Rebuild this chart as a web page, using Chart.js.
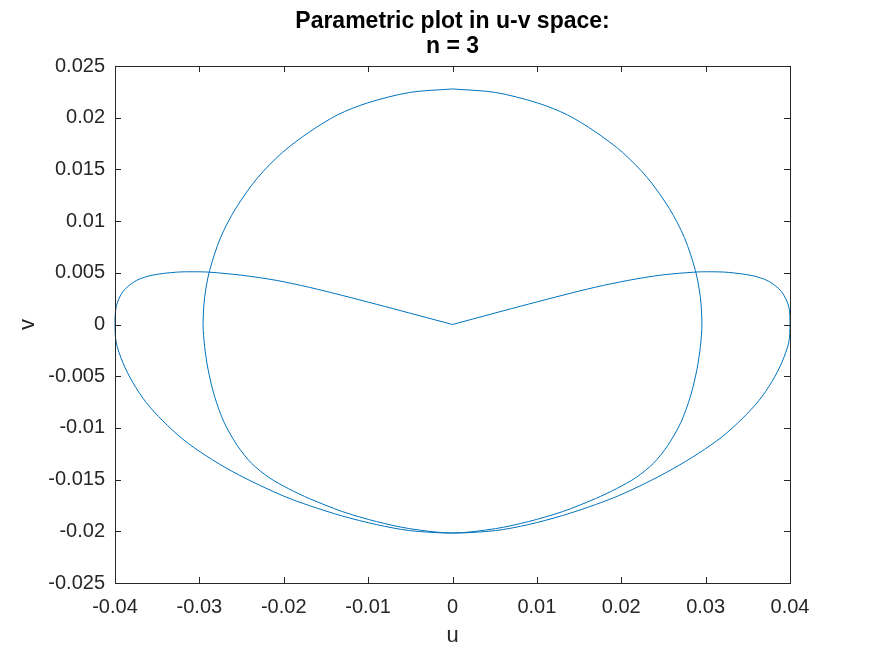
<!DOCTYPE html>
<html>
<head>
<meta charset="utf-8">
<script src="https://cdn.jsdelivr.net/npm/chart.js@4.4.1/dist/chart.umd.min.js"></script>
<style>
  html, body { margin: 0; padding: 0; background: #ffffff; }
  #wrap { width: 875px; height: 656px; position: relative; }
</style>
</head>
<body>
<div id="wrap"><canvas id="c" width="875" height="656"></canvas></div>
<script>
// ---- Data ----
const titleLines = ['Parametric plot in u-v space:', 'n = 3'];
const xLabel = 'u';
const yLabel = 'v';

const xTickValues = [-0.04, -0.03, -0.02, -0.01, 0, 0.01, 0.02, 0.03, 0.04];
const xTickLabels = ['-0.04', '-0.03', '-0.02', '-0.01', '0', '0.01', '0.02', '0.03', '0.04'];
const yTickValues = [-0.025, -0.02, -0.015, -0.01, -0.005, 0, 0.005, 0.01, 0.015, 0.02, 0.025];
const yTickLabels = ['-0.025', '-0.02', '-0.015', '-0.01', '-0.005', '0', '0.005', '0.01', '0.015', '0.02', '0.025'];

// Outer "lobe" curve: origin -> upper left -> left tip -> bottom -> right tip -> upper right -> origin
const lobeU = [0, -0.00510, -0.00904, -0.01300, -0.01694, -0.02089, -0.02485, -0.02879, -0.03081,
  -0.03274, -0.03551, -0.03748, -0.03906, -0.03985, -0.0400,
  -0.03985, -0.03906, -0.03788, -0.03629, -0.03432, -0.03195, -0.02918, -0.02603, -0.02287,
  -0.01970, -0.01694, -0.01303, -0.00900, -0.00510, 0,
  0.00510, 0.00900, 0.01303, 0.01694, 0.01970, 0.02287, 0.02603, 0.02918, 0.03195, 0.03432,
  0.03629, 0.03788, 0.03906, 0.03985, 0.0400,
  0.03987, 0.03898, 0.03744, 0.03549, 0.03270, 0.03069, 0.02879, 0.02476, 0.02085, 0.01694,
  0.01297, 0.00900, 0.00504, 0];
const lobeV = [0, 0.00111, 0.00196, 0.00280, 0.00359, 0.00427, 0.00475, 0.00506, 0.00510,
  0.00506, 0.00478, 0.00425, 0.00319, 0.00174, 0,
  -0.00177, -0.00370, -0.00563, -0.00756, -0.00933, -0.01110, -0.01271, -0.01424, -0.01554,
  -0.01670, -0.01752, -0.01853, -0.01935, -0.01993, -0.02017,
  -0.01993, -0.01935, -0.01848, -0.01742, -0.01655, -0.01535, -0.01400, -0.01245, -0.01086, -0.00912,
  -0.00738, -0.00550, -0.00362, -0.00174, 0,
  0.00169, 0.00319, 0.00420, 0.00473, 0.00504, 0.00510, 0.00507, 0.00478, 0.00427, 0.00361,
  0.00281, 0.00197, 0.00111, 0];

// Inner closed curve: top -> left -> bottom -> right -> top
const circleU = [0, -0.00510, -0.01007, -0.01363, -0.01694, -0.02014, -0.02310, -0.02571, -0.02749,
  -0.02879, -0.02938, -0.02956, -0.02938, -0.02897, -0.02820, -0.02707, -0.02553, -0.02382, -0.02180,
  -0.01943, -0.01694, -0.01303, -0.00900, -0.00510, 0,
  0.00510, 0.00900, 0.01303, 0.01694, 0.01943, 0.02180, 0.02382, 0.02553, 0.02707, 0.02820,
  0.02897, 0.02938, 0.02956, 0.02938, 0.02879, 0.02749, 0.02571, 0.02310, 0.02014, 0.01694,
  0.01363, 0.01007, 0.00510, 0];
const circleV = [0.02278, 0.02244, 0.02143, 0.02027, 0.01863, 0.01665, 0.01419, 0.01120, 0.00840,
  0.00521, 0.00261, 0, -0.00212, -0.00434, -0.00695, -0.00946, -0.01168, -0.01342, -0.01477,
  -0.01588, -0.01684, -0.01810, -0.01906, -0.01974, -0.02017,
  -0.01974, -0.01906, -0.01810, -0.01684, -0.01588, -0.01477, -0.01342, -0.01168, -0.00946, -0.00695,
  -0.00434, -0.00212, 0, 0.00261, 0.00521, 0.00840, 0.01120, 0.01419, 0.01665, 0.01863,
  0.02027, 0.02143, 0.02244, 0.02278];

const lineColor = '#0072BD';
const axisColor = '#262626';
const FONT = '"Liberation Sans", Arial, Helvetica, sans-serif';

function toPoints(us, vs) { return us.map((u, i) => ({ x: u, y: vs[i] })); }

const decorPlugin = {
  id: 'decor',
  afterDraw(chart) {
    const ctx = chart.ctx;
    const a = chart.chartArea;
    const xs = chart.scales.x, ys = chart.scales.y;
    ctx.save();
    // box
    ctx.strokeStyle = axisColor;
    ctx.lineWidth = 1;
    ctx.beginPath();
    ctx.rect(Math.round(a.left) + 0.5, Math.round(a.top) + 0.5,
             Math.round(a.right - a.left), Math.round(a.bottom - a.top));
    ctx.stroke();
    // inward tick marks on all four sides
    const tl = 6;
    ctx.beginPath();
    xTickValues.forEach(v => {
      const px = Math.round(xs.getPixelForValue(v)) + 0.5;
      ctx.moveTo(px, a.bottom); ctx.lineTo(px, a.bottom - tl);
      ctx.moveTo(px, a.top); ctx.lineTo(px, a.top + tl);
    });
    yTickValues.forEach(v => {
      const py = Math.round(ys.getPixelForValue(v)) + 0.5;
      ctx.moveTo(a.left, py); ctx.lineTo(a.left + tl, py);
      ctx.moveTo(a.right, py); ctx.lineTo(a.right - tl, py);
    });
    ctx.stroke();
    // title
    ctx.fillStyle = '#000000';
    ctx.textAlign = 'center';
    ctx.textBaseline = 'alphabetic';
    ctx.font = 'bold 23px ' + FONT;
    const cx = (a.left + a.right) / 2;
    ctx.fillText(titleLines[0], cx, 28);
    ctx.fillText(titleLines[1], cx, 53);
    // axis labels
    ctx.fillStyle = axisColor;
    ctx.font = '22px ' + FONT;
    ctx.textBaseline = 'middle';
    ctx.fillText(xLabel, cx, 636);
    ctx.save();
    ctx.translate(28, (a.top + a.bottom) / 2);
    ctx.rotate(-Math.PI / 2);
    ctx.fillText(yLabel, 0, 0);
    ctx.restore();
    ctx.restore();
  }
};

new Chart(document.getElementById('c'), {
  type: 'scatter',
  data: {
    datasets: [
      { data: toPoints(lobeU, lobeV), showLine: true, borderColor: lineColor, borderWidth: 1,
        pointRadius: 0, tension: 0.3, fill: false, clip: 2 },
      { data: toPoints(circleU, circleV), showLine: true, borderColor: lineColor, borderWidth: 1,
        pointRadius: 0, tension: 0.3, fill: false, clip: 2 }
    ]
  },
  options: {
    responsive: false,
    animation: false,
    events: [],
    layout: { padding: { top: 66, right: 85, bottom: 0, left: 0 } },
    plugins: { legend: { display: false }, title: { display: false }, tooltip: { enabled: false } },
    scales: {
      x: {
        type: 'linear', min: -0.04, max: 0.04,
        afterBuildTicks(scale) { scale.ticks = xTickValues.map(v => ({ value: v })); },
        afterFit(scale) { scale.height = 73; },
        grid: { display: true, drawOnChartArea: false, drawTicks: false },
        border: { display: true, color: axisColor, width: 1 },
        ticks: {
          color: axisColor, font: { family: FONT, size: 20 }, padding: 12,
          maxRotation: 0, autoSkip: false,
          callback: (val, i) => xTickLabels[i]
        }
      },
      y: {
        type: 'linear', min: -0.025, max: 0.025,
        afterBuildTicks(scale) { scale.ticks = yTickValues.map(v => ({ value: v })); },
        afterFit(scale) { scale.width = 115; },
        grid: { display: true, drawOnChartArea: false, drawTicks: false },
        border: { display: true, color: axisColor, width: 1 },
        ticks: {
          color: axisColor, font: { family: FONT, size: 20 }, padding: 10,
          autoSkip: false,
          callback: (val, i) => yTickLabels[i]
        }
      }
    }
  },
  plugins: [decorPlugin]
});
</script>
</body>
</html>
